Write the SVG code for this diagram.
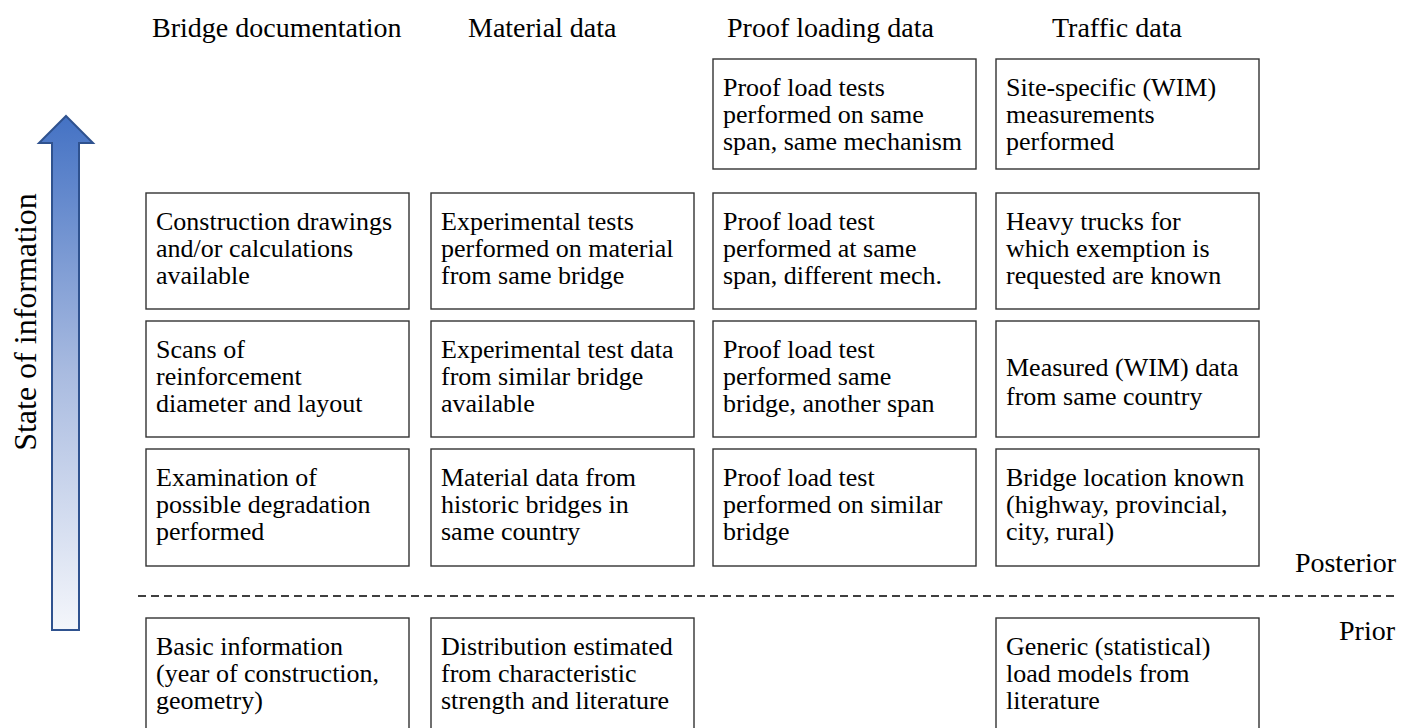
<svg xmlns="http://www.w3.org/2000/svg" width="1414" height="728" viewBox="0 0 1414 728" font-family="'Liberation Serif', 'Times New Roman', 'DejaVu Serif', serif">
<style>
.h{font-size:28px;font-family:'Liberation Serif','Times New Roman','DejaVu Serif',serif}
.t{font-size:26px;font-family:'Liberation Serif','Times New Roman','DejaVu Serif',serif}
.box{fill:#fff;stroke:#333;stroke-width:1.4}
</style>
<defs>
<linearGradient id="g" x1="0" y1="0" x2="0" y2="1">
<stop offset="0" stop-color="#4472C4"/>
<stop offset="0.5" stop-color="#A9BBE0"/>
<stop offset="1" stop-color="#F4F6FB"/>
</linearGradient>
</defs>
<rect width="1414" height="728" fill="#fff"/>
<g id="arrow">
<path d="M66 116 L93 143 L79 143 L79 630 L52 630 L52 143 L39 143 Z" fill="url(#g)" stroke="#2F528F" stroke-width="2"/>
</g>
<text class="h" style="font-size:32px" transform="translate(36,322) rotate(-90)" text-anchor="middle">State of information</text>
<g id="headers">
<text class="h" x="152" y="37">Bridge documentation</text>
<text class="h" x="468" y="37">Material data</text>
<text class="h" x="727" y="37">Proof loading data</text>
<text class="h" x="1052" y="37">Traffic data</text>
</g>
<g id="connectors">
<line x1="138" y1="596" x2="1395" y2="596" stroke="#000" stroke-width="1.5" stroke-dasharray="8,5"/>
</g>
<text class="h" x="1396" y="572" text-anchor="end">Posterior</text>
<text class="h" x="1395" y="640" text-anchor="end">Prior</text>
<g id="n-proof0"><rect class="box" x="713" y="59" width="263" height="110"/>
<text class="t" x="723" y="96">Proof load tests</text><text class="t" x="723" y="123">performed on same</text><text class="t" x="723" y="150">span, same mechanism</text></g>
<g id="n-traffic0"><rect class="box" x="996" y="59" width="263" height="110"/>
<text class="t" x="1006" y="96">Site-specific (WIM)</text><text class="t" x="1006" y="123">measurements</text><text class="t" x="1006" y="150">performed</text></g>

<g id="n-doc1"><rect class="box" x="146" y="193" width="263" height="116"/>
<text class="t" x="156" y="230">Construction drawings</text><text class="t" x="156" y="257">and/or calculations</text><text class="t" x="156" y="284">available</text></g>
<g id="n-mat1"><rect class="box" x="431" y="193" width="263" height="116"/>
<text class="t" x="441" y="230">Experimental tests</text><text class="t" x="441" y="257">performed on material</text><text class="t" x="441" y="284">from same bridge</text></g>
<g id="n-proof1"><rect class="box" x="713" y="193" width="263" height="116"/>
<text class="t" x="723" y="230">Proof load test</text><text class="t" x="723" y="257">performed at same</text><text class="t" x="723" y="284">span, different mech.</text></g>
<g id="n-traffic1"><rect class="box" x="996" y="193" width="263" height="116"/>
<text class="t" x="1006" y="230">Heavy trucks for</text><text class="t" x="1006" y="257">which exemption is</text><text class="t" x="1006" y="284">requested are known</text></g>

<g id="n-doc2"><rect class="box" x="146" y="321" width="263" height="116"/>
<text class="t" x="156" y="358">Scans of</text><text class="t" x="156" y="385">reinforcement</text><text class="t" x="156" y="412">diameter and layout</text></g>
<g id="n-mat2"><rect class="box" x="431" y="321" width="263" height="116"/>
<text class="t" x="441" y="358">Experimental test data</text><text class="t" x="441" y="385">from similar bridge</text><text class="t" x="441" y="412">available</text></g>
<g id="n-proof2"><rect class="box" x="713" y="321" width="263" height="116"/>
<text class="t" x="723" y="358">Proof load test</text><text class="t" x="723" y="385">performed same</text><text class="t" x="723" y="412">bridge, another span</text></g>
<g id="n-traffic2"><rect class="box" x="996" y="321" width="263" height="116"/>
<text class="t" x="1006" y="376">Measured (WIM) data</text><text class="t" x="1006" y="405">from same country</text></g>

<g id="n-doc3"><rect class="box" x="146" y="449" width="263" height="117"/>
<text class="t" x="156" y="486">Examination of</text><text class="t" x="156" y="513">possible degradation</text><text class="t" x="156" y="540">performed</text></g>
<g id="n-mat3"><rect class="box" x="431" y="449" width="263" height="117"/>
<text class="t" x="441" y="486">Material data from</text><text class="t" x="441" y="513">historic bridges in</text><text class="t" x="441" y="540">same country</text></g>
<g id="n-proof3"><rect class="box" x="713" y="449" width="263" height="117"/>
<text class="t" x="723" y="486">Proof load test</text><text class="t" x="723" y="513">performed on similar</text><text class="t" x="723" y="540">bridge</text></g>
<g id="n-traffic3"><rect class="box" x="996" y="449" width="263" height="117"/>
<text class="t" x="1006" y="486">Bridge location known</text><text class="t" x="1006" y="513">(highway, provincial,</text><text class="t" x="1006" y="540">city, rural)</text></g>

<g id="n-doc4"><rect class="box" x="146" y="618" width="263" height="120"/>
<text class="t" x="156" y="655">Basic information</text><text class="t" x="156" y="682">(year of construction,</text><text class="t" x="156" y="709">geometry)</text></g>
<g id="n-mat4"><rect class="box" x="431" y="618" width="263" height="120"/>
<text class="t" x="441" y="655">Distribution estimated</text><text class="t" x="441" y="682">from characteristic</text><text class="t" x="441" y="709">strength and literature</text></g>
<g id="n-traffic4"><rect class="box" x="996" y="618" width="263" height="120"/>
<text class="t" x="1006" y="655">Generic (statistical)</text><text class="t" x="1006" y="682">load models from</text><text class="t" x="1006" y="709">literature</text></g>
</svg>
